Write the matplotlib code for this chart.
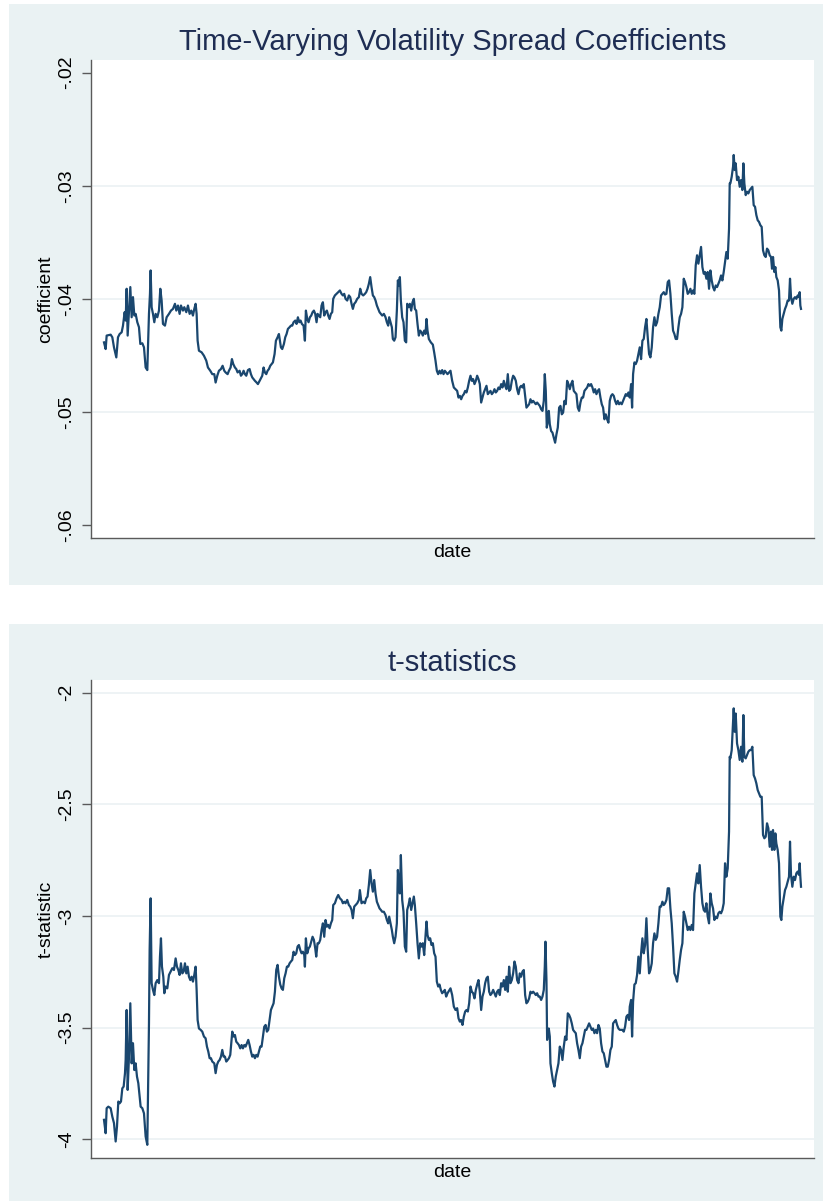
import matplotlib
matplotlib.use("Agg")
import matplotlib.pyplot as plt
from matplotlib.patches import Rectangle
from matplotlib.ticker import FixedLocator, FixedFormatter

plt.rcParams["font.family"] = ["Liberation Sans", "DejaVu Sans"]
plt.rcParams["axes.unicode_minus"] = False

# ---------------------------------------------------------------------------
# Data: rolling-window volatility spread coefficient and its t-statistic,
# indexed by observation number (daily observations)
# ---------------------------------------------------------------------------
coef_obs = [
    0, 5, 8, 20, 25, 30, 37, 42, 47, 53, 57, 62, 65, 68, 71, 75, 79, 83, 87, 91,
    95, 100, 105, 109, 115, 120, 125, 130, 135, 138, 140, 143, 147, 151, 155, 160,
    165, 169, 173, 177, 183, 188, 195, 201, 207, 213, 217, 222, 227, 231, 237, 241,
    247, 252, 257, 262, 267, 271, 275, 278, 281, 285, 293, 300, 307, 312, 319, 325,
    331, 335, 340, 345, 351, 356, 361, 365, 371, 375, 380, 384, 388, 393, 397, 401,
    407, 411, 415, 419, 423, 427, 432, 437, 441, 445, 449, 453, 458, 462, 467, 471,
    475, 479, 483, 487, 491, 495, 499, 503, 507, 512, 516, 521, 525, 528, 531, 535,
    540, 544, 548, 552, 557, 561, 565, 569, 574, 578, 582, 586, 590, 594, 599, 603,
    606, 610, 614, 618, 622, 626, 630, 634, 638, 641, 645, 649, 653, 657, 661, 665,
    669, 673, 677, 681, 685, 688, 693, 698, 703, 708, 713, 717, 721, 725, 730, 735,
    739, 743, 747, 751, 755, 760, 765, 769, 773, 778, 783, 787, 791, 795, 799, 803,
    807, 811, 815, 819, 823, 827, 831, 835, 840, 845, 849, 853, 856, 860, 864, 867,
    871, 875, 879, 882, 885, 888, 891, 895, 899, 903, 907, 910, 914, 918, 922, 926,
    930, 933, 937, 941, 945, 949, 953, 957, 961, 965, 968, 971, 975, 981, 987, 991,
    995, 999, 1003, 1007, 1011, 1015, 1019, 1023, 1027, 1031,
    1040, 1045, 1050, 1055, 1060, 1064, 1068, 1072, 1076, 1080, 1084, 1088, 1092,
    1096, 1100, 1104, 1108, 1112, 1116, 1120, 1124, 1128, 1132, 1136, 1140, 1144,
    1148, 1152, 1156, 1160, 1164, 1168, 1172, 1176, 1180, 1184, 1188, 1192, 1196,
    1200, 1204, 1208, 1212, 1216, 1220, 1224, 1228, 1232, 1236, 1240, 1244, 1248,
    1252, 1256, 1260, 1264, 1268, 1272, 1276, 1280, 1284, 1288, 1292, 1296, 1300,
    1304, 1308, 1312, 1316, 1320, 1323, 1326, 1329, 1332, 1335, 1338, 1342, 1346,
    1350, 1354, 1358, 1362, 1366, 1370, 1374, 1378, 1382, 1386, 1390, 1394, 1398,
    1402, 1406, 1410, 1414, 1418, 1422, 1426, 1430, 1434, 1438, 1442, 1446, 1450,
    1454, 1458, 1462, 1466, 1470, 1474, 1478, 1482, 1486, 1490, 1494, 1498, 1502,
    1506, 1510, 1514, 1518, 1522, 1526, 1530, 1534, 1538, 1542, 1546, 1550, 1554,
    1558, 1562, 1566, 1570, 1574, 1578, 1582, 1585, 1588, 1592, 1596, 1600, 1604,
    1608, 1612, 1616, 1620, 1624, 1628, 1632, 1636, 1640, 1644, 1648, 1652, 1656,
    1660, 1664, 1668, 1672, 1676, 1680, 1684, 1688, 1692, 1696, 1700, 1704, 1708,
    1712, 1716, 1720, 1724, 1728, 1732, 1736, 1740, 1744, 1748, 1752, 1756, 1760,
    1764, 1768, 1772, 1776, 1780, 1784, 1788, 1792, 1796, 1800, 1804, 1808, 1812,
    1816, 1820, 1824, 1828, 1832, 1836, 1840, 1844, 1848, 1852, 1856, 1860, 1864,
    1868, 1872, 1876, 1878, 1880, 1884, 1888, 1890, 1893, 1896, 1900, 1904, 1908,
    1912, 1916, 1919, 1922, 1926, 1930, 1934, 1938, 1942, 1946, 1950, 1954, 1958,
    1962, 1966, 1970, 1974, 1978, 1982, 1986, 1990, 1994, 1998, 2002, 2005, 2008,
    2012, 2015, 2018, 2022, 2026, 2030, 2033, 2036, 2040, 2044, 2048, 2052, 2056,
    2059, 2062, 2066, 2070, 2074, 2078, 2082, 2086, 2088, 2090, 2092,
]

coef_values = [
    -0.04385, -0.04444, -0.04325, -0.04317, -0.04340, -0.04429, -0.04518, -0.04340,
    -0.04311, -0.04296, -0.04237, -0.04118, -0.04192, -0.03911, -0.04325, -0.04104,
    -0.03896, -0.04163, -0.03985, -0.04148, -0.04133, -0.04207, -0.04251, -0.04399,
    -0.04393, -0.04429, -0.04607, -0.04630, -0.04133, -0.03956, -0.03749, -0.04074,
    -0.04133, -0.04207, -0.04133, -0.04163, -0.04104, -0.03911, -0.04015, -0.04222,
    -0.04237, -0.04163, -0.04133, -0.04104, -0.04089, -0.04044, -0.04104, -0.04059,
    -0.04133, -0.04059, -0.04104, -0.04074, -0.04118, -0.04059, -0.04133, -0.04104,
    -0.04148, -0.04089, -0.04044, -0.04133, -0.04370, -0.04459, -0.04473, -0.04503,
    -0.04547, -0.04607, -0.04636, -0.04666, -0.04666, -0.04740, -0.04680, -0.04636,
    -0.04621, -0.04592, -0.04636, -0.04651, -0.04666, -0.04636, -0.04607, -0.04533,
    -0.04577, -0.04607, -0.04621, -0.04651, -0.04636, -0.04680, -0.04666, -0.04636,
    -0.04666, -0.04680, -0.04630, -0.04621, -0.04666, -0.04695, -0.04710, -0.04725,
    -0.04740, -0.04754, -0.04725, -0.04701, -0.04680, -0.04607, -0.04651, -0.04666,
    -0.04636, -0.04621, -0.04592, -0.04577, -0.04562, -0.04488, -0.04370, -0.04340,
    -0.04311, -0.04370, -0.04429, -0.04444, -0.04399, -0.04340, -0.04311, -0.04266,
    -0.04251, -0.04237, -0.04237, -0.04207, -0.04192, -0.04222, -0.04163, -0.04207,
    -0.04192, -0.04222, -0.04237, -0.04370, -0.04104, -0.04178, -0.04207, -0.04163,
    -0.04148, -0.04118, -0.04104, -0.04133, -0.04207, -0.04133, -0.04148, -0.04163,
    -0.04059, -0.04030, -0.04148, -0.04118, -0.04104, -0.04148, -0.04178, -0.04133,
    -0.04118, -0.04000, -0.03970, -0.03956, -0.03941, -0.03926, -0.03956, -0.03970,
    -0.03956, -0.04000, -0.04015, -0.03970, -0.03985, -0.04044, -0.04089, -0.04044,
    -0.04030, -0.04000, -0.03985, -0.03911, -0.03956, -0.03970, -0.03956, -0.03941,
    -0.03911, -0.03867, -0.03808, -0.03896, -0.03970, -0.03985, -0.04015, -0.04059,
    -0.04089, -0.04118, -0.04133, -0.04148, -0.04133, -0.04163, -0.04207, -0.04237,
    -0.04163, -0.04207, -0.04251, -0.04355, -0.04370, -0.04340, -0.04104, -0.03837,
    -0.03882, -0.03808, -0.04015, -0.04163, -0.04207, -0.04370, -0.04385, -0.04044,
    -0.04074, -0.04044, -0.04104, -0.04030, -0.04000, -0.04089, -0.04104, -0.04222,
    -0.04325, -0.04281, -0.04296, -0.04325, -0.04281, -0.04311, -0.04178, -0.04281,
    -0.04355, -0.04385, -0.04405, -0.04473, -0.04547, -0.04636, -0.04666, -0.04636,
    -0.04660, -0.04630, -0.04666, -0.04636, -0.04651, -0.04666,
    -0.04636, -0.04725, -0.04784, -0.04799, -0.04814, -0.04873, -0.04858, -0.04888,
    -0.04858, -0.04843, -0.04814, -0.04828, -0.04784, -0.04725, -0.04680, -0.04725,
    -0.04710, -0.04754, -0.04725, -0.04680, -0.04710, -0.04754, -0.04917, -0.04873,
    -0.04828, -0.04799, -0.04769, -0.04843, -0.04828, -0.04814, -0.04843, -0.04828,
    -0.04799, -0.04828, -0.04814, -0.04784, -0.04799, -0.04754, -0.04784, -0.04725,
    -0.04769, -0.04799, -0.04666, -0.04814, -0.04799, -0.04725, -0.04680, -0.04695,
    -0.04725, -0.04799, -0.04843, -0.04784, -0.04769, -0.04784, -0.04754, -0.04858,
    -0.04962, -0.04947, -0.04932, -0.04888, -0.04917, -0.04902, -0.04917, -0.04932,
    -0.04917, -0.04932, -0.04947, -0.04976, -0.04991, -0.04902, -0.04666, -0.04814,
    -0.05139, -0.05080, -0.04991, -0.05109, -0.05169, -0.05183, -0.05228, -0.05272,
    -0.05198, -0.05139, -0.04962, -0.04947, -0.05021, -0.05006, -0.04902, -0.04932,
    -0.04725, -0.04754, -0.04799, -0.04754, -0.04725, -0.04814, -0.04828, -0.04843,
    -0.04962, -0.04991, -0.04917, -0.04873, -0.04873, -0.04814, -0.04799, -0.04784,
    -0.04754, -0.04769, -0.04754, -0.04784, -0.04828, -0.04799, -0.04843, -0.04814,
    -0.04799, -0.04873, -0.04932, -0.04962, -0.05065, -0.05021, -0.05065, -0.05095,
    -0.04902, -0.04858, -0.04843, -0.04858, -0.04902, -0.04932, -0.04902, -0.04932,
    -0.04917, -0.04932, -0.04902, -0.04873, -0.04843, -0.04858, -0.04828, -0.04873,
    -0.04754, -0.04962, -0.04666, -0.04562, -0.04577, -0.04547, -0.04488, -0.04429,
    -0.04533, -0.04370, -0.04355, -0.04251, -0.04178, -0.04340, -0.04488, -0.04518,
    -0.04429, -0.04251, -0.04163, -0.04237, -0.04207, -0.04133, -0.04074, -0.03970,
    -0.03956, -0.03941, -0.03962, -0.03956, -0.03852, -0.03837, -0.03956, -0.04133,
    -0.04281, -0.04311, -0.04355, -0.04355, -0.04251, -0.04163, -0.04133, -0.04074,
    -0.03822, -0.03852, -0.03896, -0.03956, -0.03941, -0.03911, -0.03956, -0.03926,
    -0.03956, -0.03704, -0.03615, -0.03689, -0.03615, -0.03541, -0.03719, -0.03778,
    -0.03763, -0.03822, -0.03763, -0.03911, -0.03749, -0.03837, -0.03896, -0.03926,
    -0.03882, -0.03896, -0.03867, -0.03837, -0.03793, -0.03837, -0.03763, -0.03675,
    -0.03586, -0.03645, -0.03379, -0.02979, -0.02979, -0.02920, -0.02831, -0.02728,
    -0.02861, -0.02802, -0.02950, -0.02920, -0.03009, -0.02950, -0.03038, -0.02802,
    -0.02979, -0.03083, -0.03053, -0.03068, -0.03038, -0.03024, -0.03009, -0.03172,
    -0.03186, -0.03260, -0.03305, -0.03320, -0.03349, -0.03364, -0.03571, -0.03615,
    -0.03630, -0.03556, -0.03571, -0.03615, -0.03630, -0.03734, -0.03630, -0.03763,
    -0.03719, -0.03808, -0.03837, -0.03926, -0.04251, -0.04281, -0.04178, -0.04133,
    -0.04089, -0.04059, -0.04015, -0.04015, -0.03822, -0.03985, -0.04044, -0.04000,
    -0.03985, -0.04000, -0.03970, -0.03985, -0.03941, -0.04059, -0.04089,
]

tstat_obs = [
    0, 5, 8, 13, 20, 25, 30, 35, 39, 43, 47, 51, 55, 59, 63, 65, 68, 71, 75, 79,
    83, 87, 91, 95, 99, 103, 107, 110, 115, 120, 125, 130, 133, 135, 137, 140, 143,
    147, 151, 155, 160, 165, 168, 171, 174, 178, 181, 185, 190, 195, 200, 205, 210,
    215, 219, 223, 227, 231, 235, 239, 243, 247, 251, 255, 259, 263, 267, 271, 275,
    278, 281, 285, 290, 295, 300, 305, 309, 313, 317, 321, 325, 331, 335, 339, 343,
    347, 351, 355, 359, 363, 367, 371, 375, 379, 382, 385, 389, 393, 397, 401, 405,
    409, 413, 417, 421, 425, 429, 433, 437, 441, 445, 449, 453, 457, 461, 465, 469,
    473, 477, 481, 485, 489, 493, 497, 501, 505, 509, 513, 517, 521, 525, 529, 533,
    537, 541, 545, 549, 553, 557, 561, 565, 569, 573, 577, 581, 585, 589, 593, 597,
    601, 603, 606, 610, 614, 618, 622, 626, 630, 634, 637, 641, 645, 649, 653, 657,
    661, 665, 669, 673, 677, 681, 685, 688, 693, 698, 703, 708, 713, 717, 721, 725,
    730, 735, 739, 743, 747, 751, 755, 760, 765, 768, 773, 778, 783, 787, 791, 795,
    799, 803, 807, 811, 815, 819, 823, 827, 831, 835, 840, 845, 849, 853, 856, 860,
    864, 867, 871, 875, 879, 882, 885, 888, 891, 895, 899, 903, 907, 910, 914, 918,
    922, 926, 930, 933, 937, 941, 945, 949, 953, 957, 961, 965, 968, 971, 975, 979,
    983, 987, 991, 995, 999, 1003, 1007, 1011, 1015, 1019, 1023, 1027, 1031,
    1040, 1045, 1050, 1055, 1060, 1064, 1068, 1072, 1076, 1080, 1084, 1088, 1092,
    1096, 1100, 1104, 1108, 1112, 1116, 1120, 1124, 1128, 1132, 1136, 1140, 1144,
    1148, 1152, 1156, 1160, 1164, 1168, 1172, 1176, 1180, 1184, 1188, 1192, 1196,
    1200, 1204, 1208, 1212, 1216, 1220, 1224, 1228, 1232, 1236, 1240, 1244, 1248,
    1252, 1256, 1260, 1264, 1268, 1272, 1276, 1280, 1284, 1288, 1292, 1296, 1300,
    1304, 1308, 1312, 1316, 1320, 1323, 1325, 1328, 1330, 1332, 1335, 1338, 1340,
    1344, 1348, 1352, 1356, 1360, 1364, 1368, 1372, 1376, 1380, 1384, 1388, 1392,
    1396, 1400, 1404, 1408, 1412, 1416, 1420, 1424, 1428, 1432, 1436, 1440, 1444,
    1448, 1452, 1456, 1460, 1464, 1468, 1472, 1476, 1480, 1484, 1488, 1492, 1496,
    1500, 1504, 1508, 1512, 1516, 1520, 1524, 1528, 1532, 1536, 1540, 1544, 1548,
    1552, 1556, 1560, 1564, 1568, 1572, 1576, 1578, 1582, 1585, 1588, 1592, 1596,
    1600, 1604, 1608, 1612, 1616, 1620, 1624, 1628, 1632, 1636, 1640, 1644, 1648,
    1652, 1656, 1660, 1664, 1668, 1672, 1676, 1680, 1684, 1688, 1692, 1696, 1700,
    1704, 1708, 1712, 1716, 1720, 1724, 1728, 1732, 1736, 1740, 1744, 1748, 1752,
    1756, 1760, 1764, 1768, 1772, 1776, 1780, 1784, 1788, 1792, 1796, 1800, 1804,
    1808, 1812, 1816, 1820, 1824, 1828, 1832, 1836, 1840, 1844, 1848, 1852, 1856,
    1860, 1864, 1868, 1872, 1876, 1878, 1880, 1884, 1888, 1890, 1893, 1896, 1900,
    1904, 1908, 1912, 1916, 1919, 1922, 1926, 1930, 1934, 1938, 1942, 1946, 1950,
    1954, 1958, 1962, 1966, 1970, 1974, 1978, 1982, 1986, 1990, 1994, 1998, 2002,
    2005, 2008, 2012, 2015, 2018, 2022, 2026, 2030, 2033, 2036, 2040, 2044, 2048,
    2052, 2056, 2059, 2062, 2066, 2070, 2074, 2078, 2082, 2086, 2088, 2090, 2092,
]

tstat_values = [
    -3.913, -3.973, -3.861, -3.854, -3.861, -3.899, -3.928, -4.010, -3.943, -3.831,
    -3.839, -3.831, -3.772, -3.764, -3.704, -3.645, -3.421, -3.779, -3.630, -3.391,
    -3.660, -3.570, -3.690, -3.660, -3.719, -3.749, -3.809, -3.854, -3.861, -3.884,
    -3.988, -4.025, -3.704, -3.481, -3.152, -2.921, -3.301, -3.331, -3.354, -3.301,
    -3.287, -3.301, -3.182, -3.100, -3.227, -3.272, -3.346, -3.316, -3.324, -3.264,
    -3.249, -3.234, -3.242, -3.190, -3.227, -3.242, -3.264, -3.212, -3.257, -3.249,
    -3.212, -3.257, -3.227, -3.272, -3.287, -3.272, -3.294, -3.264, -3.227, -3.331,
    -3.466, -3.504, -3.510, -3.518, -3.540, -3.548, -3.585, -3.607, -3.637, -3.637,
    -3.652, -3.660, -3.704, -3.667, -3.652, -3.645, -3.630, -3.600, -3.630, -3.630,
    -3.652, -3.645, -3.637, -3.622, -3.570, -3.518, -3.540, -3.533, -3.563, -3.570,
    -3.578, -3.593, -3.578, -3.593, -3.578, -3.585, -3.570, -3.555, -3.578, -3.607,
    -3.630, -3.622, -3.637, -3.622, -3.630, -3.607, -3.585, -3.585, -3.540, -3.496,
    -3.488, -3.518, -3.510, -3.466, -3.421, -3.406, -3.391, -3.339, -3.242, -3.219,
    -3.272, -3.307, -3.324, -3.331, -3.279, -3.257, -3.227, -3.227, -3.212, -3.204,
    -3.197, -3.160, -3.175, -3.167, -3.137, -3.130, -3.152, -3.167, -3.160, -3.175,
    -3.227, -3.100, -3.167, -3.145, -3.137, -3.115, -3.093, -3.107, -3.145, -3.182,
    -3.122, -3.122, -3.107, -3.063, -3.033, -3.093, -3.018, -3.048, -3.040, -3.055,
    -3.033, -3.018, -2.951, -2.943, -2.921, -2.906, -2.921, -2.928, -2.943, -2.936,
    -2.943, -2.928, -2.951, -2.958, -2.973, -3.010, -2.958, -2.951, -2.943, -2.928,
    -2.884, -2.943, -2.936, -2.943, -2.921, -2.913, -2.861, -2.794, -2.854, -2.891,
    -2.839, -2.899, -2.936, -2.951, -2.966, -2.973, -2.981, -2.981, -2.996, -3.018,
    -3.033, -3.003, -3.033, -3.063, -3.093, -3.122, -3.093, -3.033, -2.794, -2.854,
    -2.899, -2.727, -2.928, -2.981, -3.137, -3.160, -2.973, -2.951, -2.921, -2.973,
    -2.943, -2.913, -2.951, -3.033, -3.122, -3.190, -3.122, -3.137, -3.122, -3.175,
    -3.093, -3.025, -3.085, -3.107, -3.100, -3.130, -3.122, -3.167, -3.182, -3.294,
    -3.316, -3.307, -3.331, -3.346, -3.339, -3.331, -3.361, -3.346,
    -3.324, -3.354, -3.406, -3.421, -3.413, -3.458, -3.473, -3.466, -3.488, -3.451,
    -3.428, -3.421, -3.428, -3.391, -3.316, -3.339, -3.346, -3.369, -3.331, -3.307,
    -3.287, -3.339, -3.421, -3.361, -3.339, -3.301, -3.279, -3.272, -3.339, -3.354,
    -3.346, -3.331, -3.346, -3.361, -3.339, -3.331, -3.354, -3.301, -3.316, -3.287,
    -3.331, -3.272, -3.339, -3.227, -3.301, -3.287, -3.257, -3.204, -3.227, -3.287,
    -3.301, -3.257, -3.272, -3.249, -3.242, -3.354, -3.391, -3.384, -3.369, -3.339,
    -3.346, -3.339, -3.346, -3.354, -3.346, -3.361, -3.361, -3.376, -3.361, -3.331,
    -3.227, -3.115, -3.287, -3.555, -3.525, -3.504, -3.540, -3.660, -3.704, -3.742,
    -3.764, -3.719, -3.690, -3.660, -3.585, -3.600, -3.645, -3.585, -3.540, -3.555,
    -3.436, -3.443, -3.458, -3.481, -3.510, -3.518, -3.525, -3.570, -3.600, -3.637,
    -3.585, -3.570, -3.540, -3.510, -3.510, -3.496, -3.481, -3.496, -3.510, -3.504,
    -3.525, -3.510, -3.525, -3.488, -3.504, -3.570, -3.607, -3.615, -3.645, -3.675,
    -3.675, -3.645, -3.600, -3.585, -3.481, -3.473, -3.466, -3.488, -3.504, -3.510,
    -3.510, -3.510, -3.518, -3.496, -3.451, -3.443, -3.466, -3.406, -3.376, -3.540,
    -3.384, -3.307, -3.301, -3.264, -3.182, -3.257, -3.167, -3.100, -3.167, -3.130,
    -3.010, -3.152, -3.257, -3.242, -3.212, -3.122, -3.078, -3.107, -3.093, -3.033,
    -2.958, -2.958, -2.936, -2.951, -2.943, -2.928, -2.876, -2.876, -2.966, -3.033,
    -3.137, -3.257, -3.272, -3.294, -3.249, -3.197, -3.152, -3.122, -2.981, -3.003,
    -3.033, -3.063, -3.048, -3.063, -3.040, -3.063, -2.899, -2.854, -2.809, -2.854,
    -2.772, -2.869, -2.943, -2.973, -2.981, -2.943, -3.003, -3.033, -2.899, -2.943,
    -2.966, -3.018, -3.003, -3.010, -2.988, -2.981, -2.988, -2.973, -2.943, -2.764,
    -2.824, -2.787, -2.622, -2.287, -2.294, -2.257, -2.137, -2.070, -2.175, -2.093,
    -2.227, -2.257, -2.301, -2.242, -2.309, -2.100, -2.287, -2.294, -2.279, -2.264,
    -2.257, -2.257, -2.242, -2.369, -2.384, -2.406, -2.436, -2.451, -2.466, -2.466,
    -2.637, -2.652, -2.645, -2.585, -2.607, -2.690, -2.622, -2.704, -2.615, -2.704,
    -2.630, -2.675, -2.704, -2.764, -3.003, -3.018, -2.958, -2.921, -2.884, -2.869,
    -2.846, -2.824, -2.667, -2.816, -2.869, -2.824, -2.839, -2.809, -2.801, -2.816,
    -2.764, -2.824, -2.869,
]

coef_ticks = [-0.06, -0.05, -0.04, -0.03, -0.02]
coef_tick_labels = ["-.06", "-.05", "-.04", "-.03", "-.02"]
coef_grid = [-0.05, -0.04, -0.03]

tstat_ticks = [-4.0, -3.5, -3.0, -2.5, -2.0]
tstat_tick_labels = ["-4", "-3.5", "-3", "-2.5", "-2"]
tstat_grid = [-4.0, -3.5, -3.0, -2.5, -2.0]

# ---------------------------------------------------------------------------
# Styling
# ---------------------------------------------------------------------------
W, H, DPI = 823, 1201, 100
BG = "#EAF2F3"
LINE_C = "#1A476F"
TITLE_C = "#1E2D53"
AXIS_C = "#5A5A5A"
GRID_C = "#EAF0F2"

fig = plt.figure(figsize=(W / DPI, H / DPI), dpi=DPI, facecolor="white")


def frac_box(x0, y0, x1, y1):
    """Pixel box measured from the top-left corner -> figure fraction box."""
    return [x0 / W, 1 - y1 / H, (x1 - x0) / W, (y1 - y0) / H]


panels = [
    dict(
        bg=(9, 4, 823, 585), plot=(91, 60, 814, 538),
        title="Time-Varying Volatility Spread Coefficients", title_y=50,
        ylabel="coefficient", xlabel_y=557,
        x=coef_obs, y=coef_values, ylim=(-0.06115, -0.01888),
        ticks=coef_ticks, labels=coef_tick_labels, grid=coef_grid,
    ),
    dict(
        bg=(9, 624, 823, 1201), plot=(91, 680, 814, 1158),
        title="t-statistics", title_y=671,
        ylabel="t-statistic", xlabel_y=1177,
        x=tstat_obs, y=tstat_values, ylim=(-4.084, -1.943),
        ticks=tstat_ticks, labels=tstat_tick_labels, grid=tstat_grid,
    ),
]

for p in panels:
    # panel background, kept underneath the axes
    l, b, w, h = frac_box(*p["bg"])
    fig.patches.append(Rectangle((l, b), w, h, transform=fig.transFigure,
                                 facecolor=BG, edgecolor="none", zorder=-10))

    ax = fig.add_axes(frac_box(*p["plot"]))
    ax.set_zorder(1)
    ax.set_facecolor("white")

    for g in p["grid"]:
        ax.axhline(g, color=GRID_C, lw=1.1, zorder=1)

    ax.plot(p["x"], p["y"], color=LINE_C, lw=1.6, zorder=3,
            solid_joinstyle="round")

    ax.set_xlim(-39, 2131)
    ax.set_ylim(*p["ylim"])

    ax.yaxis.set_major_locator(FixedLocator(p["ticks"]))
    ax.yaxis.set_major_formatter(FixedFormatter(p["labels"]))
    ax.set_xticks([])
    ax.tick_params(axis="y", direction="out", length=6.5, width=1.0,
                   color=AXIS_C, labelsize=14, labelcolor="black", pad=5)
    for lab in ax.get_yticklabels():
        lab.set_rotation(90)
        lab.set_verticalalignment("center")

    for side in ("top", "right"):
        ax.spines[side].set_visible(False)
    for side in ("left", "bottom"):
        ax.spines[side].set_color(AXIS_C)
        ax.spines[side].set_linewidth(1.0)

    px0, py0, px1, py1 = p["plot"]
    cx = (px0 + px1) / 2
    fig.text(cx / W, 1 - p["title_y"] / H, p["title"], ha="center",
             va="baseline", fontsize=21, color=TITLE_C)
    fig.text(46 / W, 1 - ((py0 + py1) / 2) / H, p["ylabel"], rotation=90,
             ha="center", va="center", fontsize=14, color="black")
    fig.text(cx / W, 1 - p["xlabel_y"] / H, "date", ha="center",
             va="baseline", fontsize=14, color="black")

fig.savefig("out.png", dpi=DPI, facecolor="white")
